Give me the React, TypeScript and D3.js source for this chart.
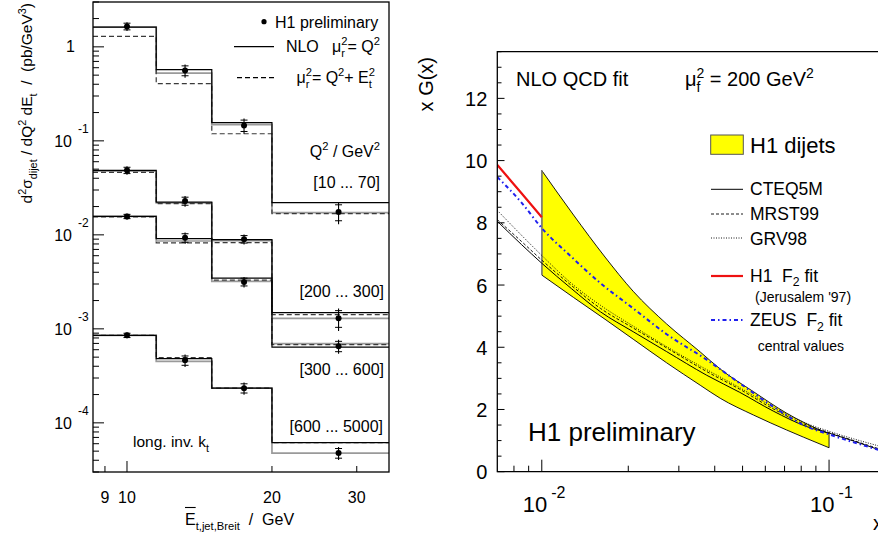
import React from "react";
import * as d3 from "d3";

// ---------- LEFT PANEL DATA ----------
const etEdges = [8.5, 11.5, 15, 20, 35];
const etCenters = [10, 13.2, 17.5, 27.5];
const q2Labels = ["[10 ... 70]", "[200 ... 300]", "[300 ... 600]", "[600 ... 5000]"];
const nloQ2 = [
  [1.62, 0.572, 0.156, 0.022],
  [0.0486, 0.0223, 0.0089, 0.00149],
  [0.0157, 0.0091, 0.00347, 0.00064],
  [0.000853, 0.000482, 0.000234, 6.15e-5],
];
const nloGrey = [
  [1.62, 0.526, 0.149, 0.0172],
  [0.0475, 0.0219, 0.0087, 0.00129],
  [0.0157, 0.0086, 0.0032, 0.000696],
  [0.000853, 0.000451, 0.000234, 4.77e-5],
];
const nloQ2Et = [
  [1.29, 0.406, 0.119, 0.0168],
  [0.0463, 0.0215, 0.00826, 0.00142],
  [0.0155, 0.0082, 0.0033, 0.000679],
  [0.000853, 0.000494, 0.000234, 6.15e-5],
];
const h1Data = [
  [1.65, 0.56, 0.146, 0.0175],
  [0.0486, 0.0229, 0.009, 0.0013],
  [0.0157, 0.0093, 0.00316, 0.000654],
  [0.000853, 0.000462, 0.000234, 4.77e-5],
];
const h1Err = [
  [0.18, 0.09, 0.027, 0.0045],
  [0.005, 0.003, 0.0011, 0.00035],
  [0.0011, 0.0013, 0.0004, 0.00011],
  [0.00006, 0.00007, 0.000035, 0.0000075],
];
const leftYTicks = [1e-4, 1e-3, 1e-2, 1e-1, 1];
const leftXTicks = [9, 10, 20, 30];

// ---------- RIGHT PANEL DATA ----------
const bandX = [0.01, 0.0129, 0.0166, 0.0208, 0.0272, 0.0356, 0.0418, 0.0546, 0.0712, 0.093, 0.1];
const bandUpper = [9.68, 8.25, 6.9, 5.8, 4.75, 3.85, 3.3, 2.57, 1.88, 1.34, 1.22];
const bandLower = [6.32, 5.6, 4.9, 4.26, 3.5, 2.78, 2.36, 1.82, 1.34, 0.89, 0.77];
const pdfX = [0.007, 0.0085, 0.01, 0.0127, 0.016, 0.0208, 0.0272, 0.0375, 0.0489, 0.0639, 0.0836, 0.1, 0.15];
const cteq5m = [8.05, 7.3, 6.7, 5.88, 5.14, 4.5, 3.86, 3.1, 2.55, 1.95, 1.45, 1.24, 0.7];
const mrst99 = [8.1, 7.4, 6.8, 5.98, 5.25, 4.62, 3.98, 3.22, 2.65, 2.02, 1.5, 1.26, 0.73];
const grv98 = [8.4, 7.6, 6.95, 6.05, 5.35, 4.68, 4.02, 3.28, 2.7, 2.08, 1.55, 1.3, 0.82];
const zeusF2 = [9.47, 8.65, 7.83, 6.9, 6.06, 5.25, 4.42, 3.6, 2.84, 2.09, 1.45, 1.2, 0.69];
const h1F2X = [0.007, 0.0085, 0.01];
const h1F2 = [9.86, 8.95, 8.18];
const rightYTicks = d3.range(0, 13.51, 0.5);
const rightXMinor = [0.008, 0.009, 0.02, 0.03, 0.04, 0.05, 0.06, 0.07, 0.08, 0.09];
const rightXMajor = [0.01, 0.1];

const FONT = '"Liberation Sans", Arial, Helvetica, sans-serif';

let ctx: CanvasRenderingContext2D | null = null;
function tw(s: string, size: number): number {
  if (!ctx && typeof document !== "undefined") {
    ctx = document.createElement("canvas").getContext("2d");
  }
  if (!ctx) return s.length * size * 0.55;
  ctx.font = `${size}px ${FONT}`;
  return ctx.measureText(s).width;
}

type Seg = string | { sup?: string; sub?: string };

function Rich({ x, y, segs, size, anchor = "start", rotate = 0, fill = "#000", subDy = 0.3 }: any) {
  const s2 = size * 0.7;
  const items: any[] = [];
  let cx = 0;
  for (const seg of segs as Seg[]) {
    if (typeof seg === "string") {
      items.push({ t: seg, x: cx, dy: 0, fs: size });
      cx += tw(seg, size);
    } else {
      let w = 0;
      if (seg.sup !== undefined) {
        items.push({ t: seg.sup, x: cx, dy: -0.42 * size, fs: s2 });
        w = Math.max(w, tw(seg.sup, s2));
      }
      if (seg.sub !== undefined) {
        items.push({ t: seg.sub, x: cx, dy: subDy * size, fs: s2 });
        w = Math.max(w, tw(seg.sub, s2));
      }
      cx += w;
    }
  }
  const off = anchor === "end" ? -cx : anchor === "middle" ? -cx / 2 : 0;
  return (
    <g transform={`translate(${x},${y}) rotate(${rotate})`}>
      {items.map((it, i) => (
        <text key={i} x={it.x + off} y={it.dy} fontSize={it.fs} fill={fill} fontFamily={FONT} style={{ whiteSpace: "pre" }}>
          {it.t}
        </text>
      ))}
    </g>
  );
}

export default function App() {
  // left scales
  const xL = d3.scaleLog().domain([8.5, 35]).range([93, 389]);
  const yL = d3.scaleLog().domain([3e-5, 3]).range([472, 2]);
  // right scales
  const xR = d3.scaleLog().domain([0.007, 0.163]).range([497.3, 890]);
  const yR = d3.scaleLinear().domain([0, 13.5]).range([471.7, 51.7]);

  const stepLine = d3
    .line<[number, number]>()
    .x((d) => xL(d[0]))
    .y((d) => yL(d[1]))
    .curve(d3.curveStepAfter);
  const histPts = (vals: number[]): [number, number][] => {
    const pts: [number, number][] = vals.map((v, i) => [etEdges[i], v]);
    pts.push([etEdges[etEdges.length - 1], vals[vals.length - 1]]);
    return pts;
  };

  const leftMinor: number[] = [];
  for (let e = -5; e <= 0; e++) {
    for (let m = 2; m <= 9; m++) {
      const v = m * Math.pow(10, e);
      if (v >= 3e-5 && v <= 3) leftMinor.push(v);
    }
  }

  const curve = d3
    .line<[number, number]>()
    .x((d) => xR(d[0]))
    .y((d) => yR(d[1]))
    .curve(d3.curveMonotoneX);
  const zip = (xs: number[], ys: number[]): [number, number][] => xs.map((x, i) => [x, ys[i]]);
  const band = d3
    .area<number>()
    .x((_, i) => xR(bandX[i]))
    .y0((_, i) => yR(bandLower[i]))
    .y1((_, i) => yR(bandUpper[i]))
    .curve(d3.curveMonotoneX);

  const eW = tw("E", 16);

  return (
    <svg width={878} height={538} style={{ position: "absolute", left: 0, top: 0, background: "#fff" }} fontFamily={FONT}>
      <rect x={0} y={0} width={878} height={538} fill="#fff" />
      <defs>
        <clipPath id="clipR">
          <rect x={497.3} y={51.7} width={400} height={420} />
        </clipPath>
        <clipPath id="clipL">
          <rect x={93} y={2} width={296} height={470} />
        </clipPath>
      </defs>

      {/* ================= LEFT PANEL ================= */}
      <g clipPath="url(#clipL)">
        {nloGrey.map((vals, s) => (
          <path key={"g" + s} d={stepLine(histPts(vals)) || ""} fill="none" stroke="#9a9a9a" strokeWidth={1.7} />
        ))}
        {nloQ2Et.map((vals, s) => (
          <path key={"d" + s} d={stepLine(histPts(vals)) || ""} fill="none" stroke="#3a3a3a" strokeWidth={1.2} strokeDasharray="5,3" />
        ))}
        {nloQ2.map((vals, s) => (
          <path key={"s" + s} d={stepLine(histPts(vals)) || ""} fill="none" stroke="#000" strokeWidth={1.2} />
        ))}
        {h1Data.map((vals, s) =>
          vals.map((v, i) => {
            const e = h1Err[s][i];
            const cx = xL(etCenters[i]);
            const inner = 0.75 * e;
            return (
              <g key={`p${s}-${i}`}>
                <line x1={cx} x2={cx} y1={yL(v + e)} y2={yL(Math.max(v - e, 1e-9))} stroke="#000" strokeWidth={1.1} />
                <line x1={cx - 3.5} x2={cx + 3.5} y1={yL(v + inner)} y2={yL(v + inner)} stroke="#000" strokeWidth={1} />
                <line x1={cx - 3.5} x2={cx + 3.5} y1={yL(v - inner)} y2={yL(v - inner)} stroke="#000" strokeWidth={1} />
                <circle cx={cx} cy={yL(v)} r={3} fill="#000" />
              </g>
            );
          })
        )}
      </g>
      {/* left frame */}
      <rect x={93} y={2} width={296} height={470} fill="none" stroke="#000" strokeWidth={1.3} />
      {/* left y ticks */}
      {leftYTicks.map((t) => (
        <line key={"ly" + t} x1={93} x2={104} y1={yL(t)} y2={yL(t)} stroke="#000" strokeWidth={1} />
      ))}
      {leftMinor.map((t) => (
        <line key={"lm" + t} x1={93} x2={99} y1={yL(t)} y2={yL(t)} stroke="#000" strokeWidth={1} />
      ))}
      {/* left y labels */}
      <text x={75} y={yL(1) + 5.5} fontSize={16} textAnchor="end">1</text>
      {leftYTicks
        .filter((t) => t < 1)
        .map((t) => (
          <g key={"lyl" + t}>
            <text x={72} y={yL(t) + 6} fontSize={16} textAnchor="end">10</text>
            <text x={78} y={yL(t) - 8} fontSize={12}>{String(Math.round(Math.log10(t)))}</text>
          </g>
        ))}
      {/* left x ticks */}
      {leftXTicks.map((t) => (
        <line key={"lx" + t} x1={xL(t)} x2={xL(t)} y1={472} y2={t === 10 ? 461 : 466} stroke="#000" strokeWidth={1} />
      ))}
      {leftXTicks.map((t) => (
        <text key={"lxl" + t} x={xL(t)} y={503} fontSize={16} textAnchor="middle">{t}</text>
      ))}
      {/* left axis titles */}
      <Rich
        x={32}
        y={3}
        rotate={-90}
        anchor="end"
        size={15.5}
        segs={["d", { sup: "2" }, "σ", { sub: "dijet" }, " / dQ", { sup: "2" }, " dE", { sub: "t" }, "  /  (pb/GeV", { sup: "3" }, ")"]}
      />
      <Rich x={185} y={525} size={16} segs={["E", { sub: "t,jet,Breit" }, "  /  GeV"]} />
      <line x1={185} x2={185 + eW} y1={507.5} y2={507.5} stroke="#000" strokeWidth={1.1} />

      {/* left legend */}
      <circle cx={264} cy={21.7} r={2.6} fill="#000" />
      <text x={275} y={28.3} fontSize={16}>H1 preliminary</text>
      <line x1={234} x2={274} y1={46.7} y2={46.7} stroke="#000" strokeWidth={1.2} />
      <Rich x={380} y={51.7} anchor="end" size={16} segs={["NLO   μ", { sub: "r", sup: "2" }, "= Q", { sup: "2" }]} />
      <line x1={237} x2={274} y1={77.7} y2={77.7} stroke="#000" strokeWidth={1.2} strokeDasharray="5,3" />
      <Rich x={375} y={83} anchor="end" size={16} segs={["μ", { sub: "r", sup: "2" }, "= Q", { sup: "2" }, "+ E", { sub: "t", sup: "2" }]} />
      <Rich x={380} y={157} anchor="end" size={16} segs={["Q", { sup: "2" }, " / GeV", { sup: "2" }]} />
      <text x={380} y={188} fontSize={16} textAnchor="end">{q2Labels[0]}</text>
      <text x={384} y={297.3} fontSize={16} textAnchor="end">{q2Labels[1]}</text>
      <text x={384} y={375} fontSize={16} textAnchor="end">{q2Labels[2]}</text>
      <text x={383} y={431.7} fontSize={16} textAnchor="end">{q2Labels[3]}</text>
      <Rich x={133} y={447} size={15.5} segs={["long. inv. k", { sub: "t" }]} />

      {/* ================= RIGHT PANEL ================= */}
      <g clipPath="url(#clipR)">
        <path d={band(bandX) || ""} fill="#ffff00" stroke="#000" strokeWidth={0.9} />
        <line x1={xR(0.01)} x2={xR(0.01)} y1={yR(bandUpper[0])} y2={yR(bandLower[0])} stroke="#808080" strokeWidth={1.6} />
        <path d={curve(zip(pdfX, cteq5m)) || ""} fill="none" stroke="#000" strokeWidth={1} />
        <path d={curve(zip(pdfX, mrst99)) || ""} fill="none" stroke="#000" strokeWidth={0.9} strokeDasharray="3,2" />
        <path d={curve(zip(pdfX, grv98)) || ""} fill="none" stroke="#000" strokeWidth={0.9} strokeDasharray="1,1.5" />
        <path d={curve(zip(h1F2X, h1F2)) || ""} fill="none" stroke="#ee1111" strokeWidth={2.2} />
        <path d={curve(zip(pdfX, zeusF2)) || ""} fill="none" stroke="#1f1fee" strokeWidth={2} strokeDasharray="4,3,1.5,3" />
      </g>
      {/* right frame */}
      <path d={`M 900 51.7 H 497.3 V 471.7 H 900`} fill="none" stroke="#000" strokeWidth={1.3} />
      {rightYTicks.map((t) => (
        <line
          key={"ry" + t}
          x1={497.3}
          x2={t % 2 === 0 ? 504.5 : 501.5}
          y1={yR(t)}
          y2={yR(t)}
          stroke="#000"
          strokeWidth={1}
        />
      ))}
      {rightYTicks
        .filter((t) => t % 2 === 0)
        .map((t) => (
          <text key={"ryl" + t} x={487.3} y={yR(t) + 7.5} fontSize={20} textAnchor="end">{t}</text>
        ))}
      {rightXMinor.map((t) => (
        <line key={"rxm" + t} x1={xR(t)} x2={xR(t)} y1={471.7} y2={465.7} stroke="#000" strokeWidth={1} />
      ))}
      {rightXMajor.map((t) => (
        <g key={"rx" + t}>
          <line x1={xR(t)} x2={xR(t)} y1={471.7} y2={459.7} stroke="#000" strokeWidth={1} />
          <text x={xR(t) + 5.5} y={512} fontSize={22} textAnchor="end">10</text>
          <text x={xR(t) + 9.5} y={498.3} fontSize={16}>{String(Math.round(Math.log10(t)))}</text>
        </g>
      ))}
      <text x={873} y={530} fontSize={20}>x</text>
      <Rich x={433} y={57} rotate={-90} anchor="end" size={20} segs={["x G(x)"]} />

      <text x={516} y={86} fontSize={20}>NLO QCD fit</text>
      <Rich x={685} y={86} size={20} segs={["μ", { sub: "f", sup: "2" }, " = 200 GeV", { sup: "2" }]} />
      <text x={528} y={440.7} fontSize={26}>H1 preliminary</text>

      {/* right legend */}
      <rect x={710.7} y={135} width={32.6} height={19.3} fill="#ffff00" stroke="#555" strokeWidth={1} />
      <text x={750} y={152.7} fontSize={22}>H1 dijets</text>
      <line x1={711} x2={743} y1={189.3} y2={189.3} stroke="#000" strokeWidth={1} />
      <text x={750} y={195} fontSize={17.5}>CTEQ5M</text>
      <line x1={711} x2={743} y1={214} y2={214} stroke="#000" strokeWidth={0.9} strokeDasharray="3,2" />
      <text x={750} y={220} fontSize={17.5}>MRST99</text>
      <line x1={711} x2={743} y1={238} y2={238} stroke="#000" strokeWidth={0.9} strokeDasharray="1,1.5" />
      <text x={750} y={245} fontSize={17.5}>GRV98</text>
      <line x1={711} x2={743} y1={276} y2={276} stroke="#ee1111" strokeWidth={2.2} />
      <Rich x={750} y={282} size={17.5} subDy={0.22} segs={["H1  F", { sub: "2" }, " fit"]} />
      <text x={755} y={302} fontSize={14}>(Jerusalem '97)</text>
      <line x1={711} x2={743} y1={320} y2={320} stroke="#1f1fee" strokeWidth={2} strokeDasharray="4,3,1.5,3" />
      <Rich x={750} y={326} size={17.5} segs={["ZEUS  F", { sub: "2" }, " fit"]} />
      <text x={757.7} y={350.7} fontSize={14}>central values</text>
    </svg>
  );
}
